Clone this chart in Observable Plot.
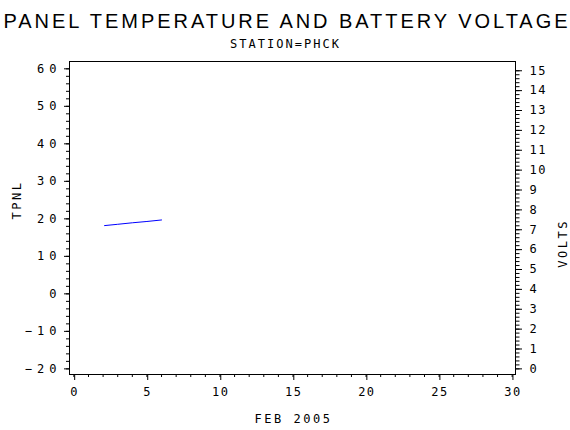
<!DOCTYPE html>
<html><head><meta charset="utf-8">
<script src="https://cdn.jsdelivr.net/npm/d3@7"></script>
<script src="https://cdn.jsdelivr.net/npm/@observablehq/plot@0.6"></script>
<style>
body{margin:0;background:#fff}
svg{display:block}
.lax text{letter-spacing:5px}
.rax text{letter-spacing:1.5px}
.bax text{letter-spacing:1.5px}
.albl text{letter-spacing:2.5px}
</style>
</head><body><div id="chart"></div>
<script>
const days = [2.1, 3, 4, 5, 6];
const tpnl = [18.2, 18.55, 18.95, 19.3, 19.7];
const xTicks = [0, 5, 10, 15, 20, 25, 30];
const tempTicks = [-20, -10, 0, 10, 20, 30, 40, 50, 60];
const voltTicks = [0, 1, 2, 3, 4, 5, 6, 7, 8, 9, 10, 11, 12, 13, 14, 15];
const titleText = "PANEL TEMPERATURE AND BATTERY VOLTAGE";
const subtitleText = "STATION=PHCK";
const xLabel = "FEB 2005";
const leftLabel = "TPNL";
const rightLabel = "VOLTS";

const voltSpan = 79.48;
const voltToTemp = v => -20 + v * voltSpan / 15;
const tempToVolt = t => Math.round((t + 20) * 15 / voltSpan);
const data = days.map((d, i) => ({day: d, tpnl: tpnl[i]}));
const xMinor = d3.range(0, 31);
const tMinor = d3.range(-20, 61, 2);
const vMinor = d3.range(0, 76).map(i => voltToTemp(i / 5));
const blank = () => "";

const mono = "DejaVu Sans Mono";
const chart = Plot.plot({
  width: 570, height: 430,
  marginTop: 61, marginBottom: 56, marginLeft: 69, marginRight: 55,
  style: {fontFamily: mono, fontSize: "12px", background: "#fff", color: "#000"},
  x: {domain: [-0.3, 30.23]},
  y: {domain: [-21.5, 61.95]},
  marks: [
    Plot.frame({stroke: "#000"}),
    Plot.axisX({ticks: xMinor, tickSize: 3, tickFormat: blank, label: null}),
    Plot.axisX({ticks: xTicks, tickSize: 6, tickPadding: 7, label: null, dx: 0.8, fontSize: 12, className: "bax"}),
    Plot.axisY({ticks: tMinor, anchor: "left", tickSize: 3, tickFormat: blank, label: null}),
    Plot.axisY({ticks: tempTicks, anchor: "left", tickSize: 5, tickPadding: 3, label: null, fontSize: 12, className: "lax"}),
    Plot.axisY({ticks: vMinor, anchor: "right", tickSize: 3.5, tickFormat: blank, label: null}),
    Plot.axisY({ticks: voltTicks.map(voltToTemp), anchor: "right", tickSize: 6, tickPadding: 8, label: null, fontSize: 12, tickFormat: tempToVolt, className: "rax"}),
    Plot.line(data, {x: "day", y: "tpnl", stroke: "#0000ff", strokeWidth: 1}),
    Plot.text([titleText], {frameAnchor: "top", dx: -7, dy: -34, lineAnchor: "bottom", fontSize: 20, fontFamily: "Liberation Sans", className: "ttl"}),
    Plot.text([subtitleText], {frameAnchor: "top", dx: -8, dy: -14, lineAnchor: "bottom", fontSize: 12, className: "sub"}),
    Plot.text([xLabel], {frameAnchor: "bottom", dx: 1, dy: 48, lineAnchor: "bottom", fontSize: 12, className: "albl"}),
    Plot.text([leftLabel], {frameAnchor: "left", dx: -52, dy: 1.5, rotate: -90, fontSize: 12, className: "albl"}),
    Plot.text([rightLabel], {frameAnchor: "right", dx: 48, dy: 1, rotate: -90, fontSize: 12, className: "albl"})
  ]
});
document.getElementById("chart").appendChild(chart);
const t = chart.querySelector("g.ttl text");
if (t) { t.setAttribute("textLength", "564"); t.setAttribute("lengthAdjust", "spacing"); }
const s = chart.querySelector("g.sub text");
if (s) { s.setAttribute("textLength", "109"); s.setAttribute("lengthAdjust", "spacing"); }
</script>
</body></html>
